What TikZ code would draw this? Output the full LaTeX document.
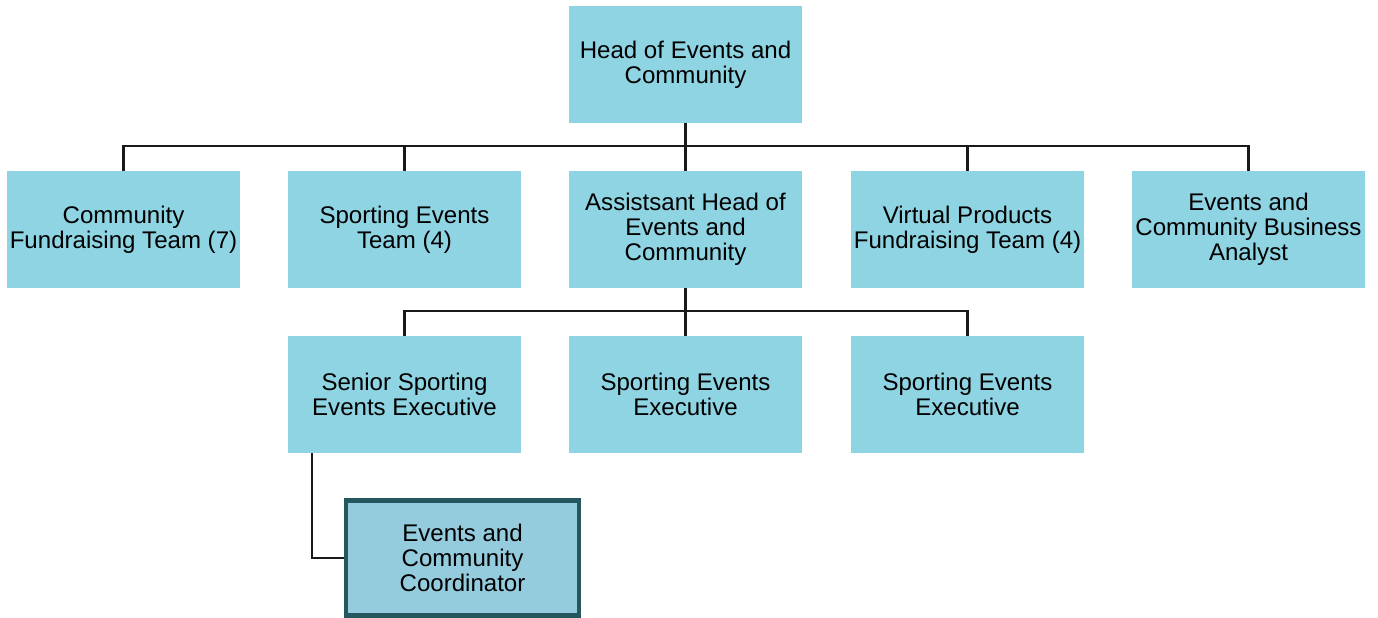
\documentclass[tikz,border=0pt]{standalone}
\usepackage{fontspec}
\setmainfont{Liberation Sans}
\usetikzlibrary{positioning, calc}

\definecolor{rolefill}{HTML}{8FD4E3}
\definecolor{newfill}{HTML}{94CCDE}
\definecolor{newedge}{HTML}{25575F}

\begin{document}
\begin{tikzpicture}[
			x=0.02cm, y=-0.02cm,
			role/.style={rectangle, fill=rolefill, minimum width=4.66cm, minimum height=2.34cm, align=center, inner sep=1pt, font=\fontsize{13.7}{14.3}\selectfont},
			newrole/.style={role, fill=newfill, draw=newedge, line width=2.3pt, minimum width=4.66cm, minimum height=2.3cm},
			link/.style={draw=black!90, line width=1.2pt}
			]
			
			\useasboundingbox (0,0) rectangle (1378,618);
			
			% Top of the structure
			\node[role] (head) at (685.5,64.5) {Head of Events and\\Community};
			
			% Direct reports
			\node[role] (community) at (123.5,229.5) {Community\\Fundraising Team (7)};
			\node[role] (sporting) at (404.5,229.5) {Sporting Events\\Team (4)};
			\node[role] (assistant) at (685.5,229.5) {Assistsant Head of\\Events and\\Community};
			\node[role] (virtual) at (967.5,229.5) {Virtual Products\\Fundraising Team (4)};
			\node[role] (analyst) at (1248.5,229.5) {Events and\\Community Business\\Analyst};
			
			% Reports to the assistant head
			\node[role] (senior) at (404.5,394.5) {Senior Sporting\\Events Executive};
			\node[role] (exec1) at (685.5,394.5) {Sporting Events\\Executive};
			\node[role] (exec2) at (967.5,394.5) {Sporting Events\\Executive};
			
			% New post
			\node[newrole] (coordinator) at (462.5,558) {Events and\\Community\\Coordinator};
			
			% Connectors
			\coordinate (bus1) at (685.5,146);
			\draw[link] (head.south) -- (bus1);
			\foreach \n in {community, sporting, assistant, virtual, analyst}
				\draw[link] (bus1) -| (\n.north);
			
			\coordinate (bus2) at (685.5,311);
			\draw[link] (assistant.south) -- (bus2);
			\foreach \n in {senior, exec1, exec2}
				\draw[link] (bus2) -| (\n.north);
			
			\draw[link] ([xshift=0.48cm]senior.south west) |- (coordinator.west);
			
		\end{tikzpicture}
\end{document}
